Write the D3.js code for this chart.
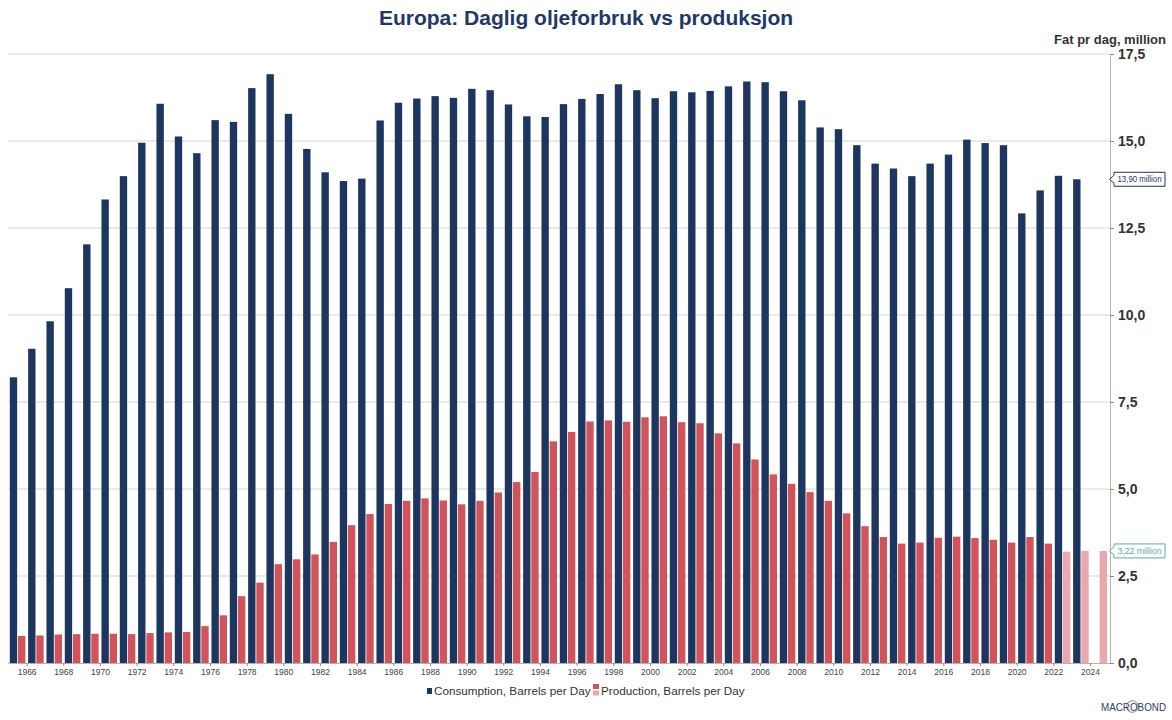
<!DOCTYPE html>
<html>
<head>
<meta charset="utf-8">
<script src="https://cdn.jsdelivr.net/npm/d3@7"></script>
<style>
  html, body { margin: 0; padding: 0; background: #ffffff; }
  svg { display: block; font-family: "Liberation Sans", Arial, sans-serif; }
</style>
</head>
<body>
<svg id="chart" width="1172" height="720"></svg>
<script>
// ---------------- DATA ----------------
const years = [1965,1966,1967,1968,1969,1970,1971,1972,1973,1974,1975,1976,1977,1978,1979,1980,1981,1982,1983,1984,
               1985,1986,1987,1988,1989,1990,1991,1992,1993,1994,1995,1996,1997,1998,1999,2000,2001,2002,2003,2004,
               2005,2006,2007,2008,2009,2010,2011,2012,2013,2014,2015,2016,2017,2018,2019,2020,2021,2022,2023,2024];

// Consumption, million barrels per day (1965-2023)
const consumption = [8.21, 9.03, 9.82, 10.77, 12.03, 13.32, 13.99, 14.95, 16.07, 15.13, 14.65, 15.60, 15.55, 16.52, 16.92, 15.78, 14.77, 14.10, 13.85, 13.92,
                     15.59, 16.10, 16.22, 16.29, 16.24, 16.50, 16.46, 16.05, 15.71, 15.69, 16.06, 16.21, 16.35, 16.63, 16.46, 16.23, 16.43, 16.40, 16.44, 16.57,
                     16.71, 16.69, 16.43, 16.17, 15.39, 15.34, 14.88, 14.35, 14.21, 13.99, 14.35, 14.61, 15.04, 14.94, 14.88, 12.92, 13.58, 14.00, 13.90];

// Production, million barrels per day (1965-2024)
const production = [0.78, 0.79, 0.82, 0.83, 0.84, 0.84, 0.83, 0.86, 0.88, 0.89, 1.06, 1.37, 1.92, 2.31, 2.84, 2.98, 3.12, 3.48, 3.96, 4.28,
                    4.57, 4.66, 4.73, 4.67, 4.56, 4.66, 4.90, 5.20, 5.49, 6.37, 6.64, 6.94, 6.97, 6.93, 7.06, 7.09, 6.92, 6.89, 6.60, 6.31,
                    5.85, 5.42, 5.15, 4.91, 4.66, 4.30, 3.93, 3.62, 3.43, 3.46, 3.60, 3.63, 3.59, 3.54, 3.46, 3.62, 3.43, 3.20, 3.22, 3.22];

// Production years drawn in the lighter (estimated) shade
const productionEstimatedYears = [2022, 2023, 2024];

const yTicks = [0, 2.5, 5, 7.5, 10, 12.5, 15, 17.5];
const xTickYears = [1966,1968,1970,1972,1974,1976,1978,1980,1982,1984,1986,1988,1990,1992,1994,1996,1998,2000,2002,2004,2006,2008,2010,2012,2014,2016,2018,2020,2022,2024];

const seriesNames = ["Consumption, Barrels per Day", "Production, Barrels per Day"];
const titleText = "Europa: Daglig oljeforbruk vs produksjon";
const unitText = "Fat pr dag, million";

(function () {
// ---------------- STYLE ----------------
const C_NAVY = "#1c3660";
const C_RED = "#d1545b";
const C_PINK = "#e9a8ad";
const C_TEAL = "#5fab9d";
const C_GRID = "#d6d6d6";
const C_AXIS = "#b3b3b3";
const C_TEXT = "#333333";

const svg = d3.select("#chart");

const pLeft = 8.3, pRight = 1108.3, axisX = 1110;
const pTop = 54, pBottom = 663;

const x = d3.scaleLinear().domain([1965, 2025]).range([pLeft, pRight]);
const step = x(1966) - x(1965);
const sub = d3.scaleBand().domain(["c", "p"]).range([1.5, step - 1.3]).paddingInner(0.1);
const y = d3.scaleLinear().domain([0, 17.5]).range([pBottom, pTop]);

const fmtComma = (v, p) => d3.format("." + p + "f")(v).replace(".", ",");

// Title
svg.append("text")
  .attr("x", 586).attr("y", 25)
  .attr("text-anchor", "middle")
  .attr("font-size", 21).attr("font-weight", "bold")
  .attr("fill", "#1f3864")
  .text(titleText);

// Unit label
svg.append("text")
  .attr("x", 1166).attr("y", 44)
  .attr("text-anchor", "end")
  .attr("font-size", 13).attr("font-weight", "bold")
  .attr("fill", C_TEXT)
  .text(unitText);

// Grid lines
svg.append("g").selectAll("line")
  .data(yTicks.filter(d => d > 0))
  .join("line")
  .attr("x1", pLeft).attr("x2", axisX)
  .attr("y1", d => y(d)).attr("y2", d => y(d))
  .attr("stroke", C_GRID).attr("stroke-width", 1.2);

// Bars
const barsG = svg.append("g");
barsG.selectAll("rect.cons")
  .data(consumption.map((v, i) => ({ year: years[i], v })))
  .join("rect")
  .attr("class", "cons")
  .attr("x", d => x(d.year) + sub("c"))
  .attr("width", sub.bandwidth())
  .attr("y", d => y(d.v))
  .attr("height", d => y(0) - y(d.v))
  .attr("fill", C_NAVY);

barsG.selectAll("rect.prod")
  .data(production.map((v, i) => ({ year: years[i], v })))
  .join("rect")
  .attr("class", "prod")
  .attr("x", d => x(d.year) + sub("p"))
  .attr("width", sub.bandwidth())
  .attr("y", d => y(d.v))
  .attr("height", d => y(0) - y(d.v))
  .attr("fill", d => productionEstimatedYears.includes(d.year) ? C_PINK : C_RED);

// Right axis
const yAxis = d3.axisRight(y)
  .tickValues(yTicks)
  .tickFormat(d => fmtComma(d, 1))
  .tickSize(4).tickPadding(4);
const yAxisG = svg.append("g").attr("transform", `translate(${axisX},0)`).call(yAxis);
yAxisG.select(".domain").attr("stroke", C_AXIS);
yAxisG.selectAll(".tick line").attr("stroke", "#888");
yAxisG.selectAll(".tick text")
  .attr("font-size", 14).attr("font-weight", "bold")
  .attr("fill", C_TEXT)
  .attr("font-family", "'Liberation Sans', Arial, sans-serif");

// Bottom axis
const xAxis = d3.axisBottom(x)
  .tickValues(xTickYears)
  .tickFormat(d3.format("d"))
  .tickSize(3).tickSizeOuter(0).tickPadding(3);
const xAxisG = svg.append("g").attr("transform", `translate(0,${pBottom})`).call(xAxis);
xAxisG.select(".domain").attr("d", `M${pLeft},0.5H${axisX}`).attr("stroke", C_AXIS);
xAxisG.selectAll(".tick line").attr("stroke", "#888");
xAxisG.selectAll(".tick text")
  .attr("font-size", 8.5).attr("fill", "#444")
  .attr("font-family", "'Liberation Sans', Arial, sans-serif");

// Value callouts on right axis
function callout(value, color, label) {
  const yv = y(value);
  const x0 = axisX - 0.5, x1 = axisX + 4, x2 = axisX + 55;
  const g = svg.append("g");
  g.append("path")
    .attr("d", `M${x0},${yv} L${x1},${yv - 4} L${x1},${yv - 7} L${x2},${yv - 7} L${x2},${yv + 7} L${x1},${yv + 7} L${x1},${yv + 4} Z`)
    .attr("fill", "#ffffff").attr("stroke", color).attr("stroke-width", 1);
  g.append("text")
    .attr("x", (x1 + x2) / 2).attr("y", yv + 3)
    .attr("text-anchor", "middle")
    .attr("font-size", 8.5).attr("fill", color)
    .attr("textLength", 44).attr("lengthAdjust", "spacingAndGlyphs")
    .text(label);
}
const lastCons = consumption[consumption.length - 1];
const lastProd = production[production.length - 1];
callout(lastCons, C_NAVY, fmtComma(lastCons, 2) + " million");
callout(lastProd, C_TEAL, fmtComma(lastProd, 2) + " million");

// Legend
const lg = svg.append("g");
lg.append("rect").attr("x", 427).attr("y", 688).attr("width", 5).attr("height", 6).attr("fill", C_NAVY);
lg.append("text").attr("x", 434).attr("y", 695).attr("font-size", 11.7).attr("fill", C_TEXT).text(seriesNames[0]);
lg.append("rect").attr("x", 593).attr("y", 684).attr("width", 6).attr("height", 5).attr("fill", C_RED);
lg.append("rect").attr("x", 593).attr("y", 690.5).attr("width", 6).attr("height", 5).attr("fill", C_PINK);
lg.append("text").attr("x", 601).attr("y", 695).attr("font-size", 11.7).attr("fill", C_TEXT).text(seriesNames[1]);

// Macrobond logo text
const logo = svg.append("g");
logo.append("text")
  .attr("x", 1101).attr("y", 710.5)
  .attr("font-size", 10.5).attr("fill", "#33425a")
  .attr("textLength", 65).attr("lengthAdjust", "spacingAndGlyphs")
  .text("MACROBOND");
logo.append("circle").attr("cx", 1132.3).attr("cy", 706.5).attr("r", 5.8)
  .attr("fill", "none").attr("stroke", "#33425a").attr("stroke-width", 0.6);
})();
</script>
</body>
</html>
